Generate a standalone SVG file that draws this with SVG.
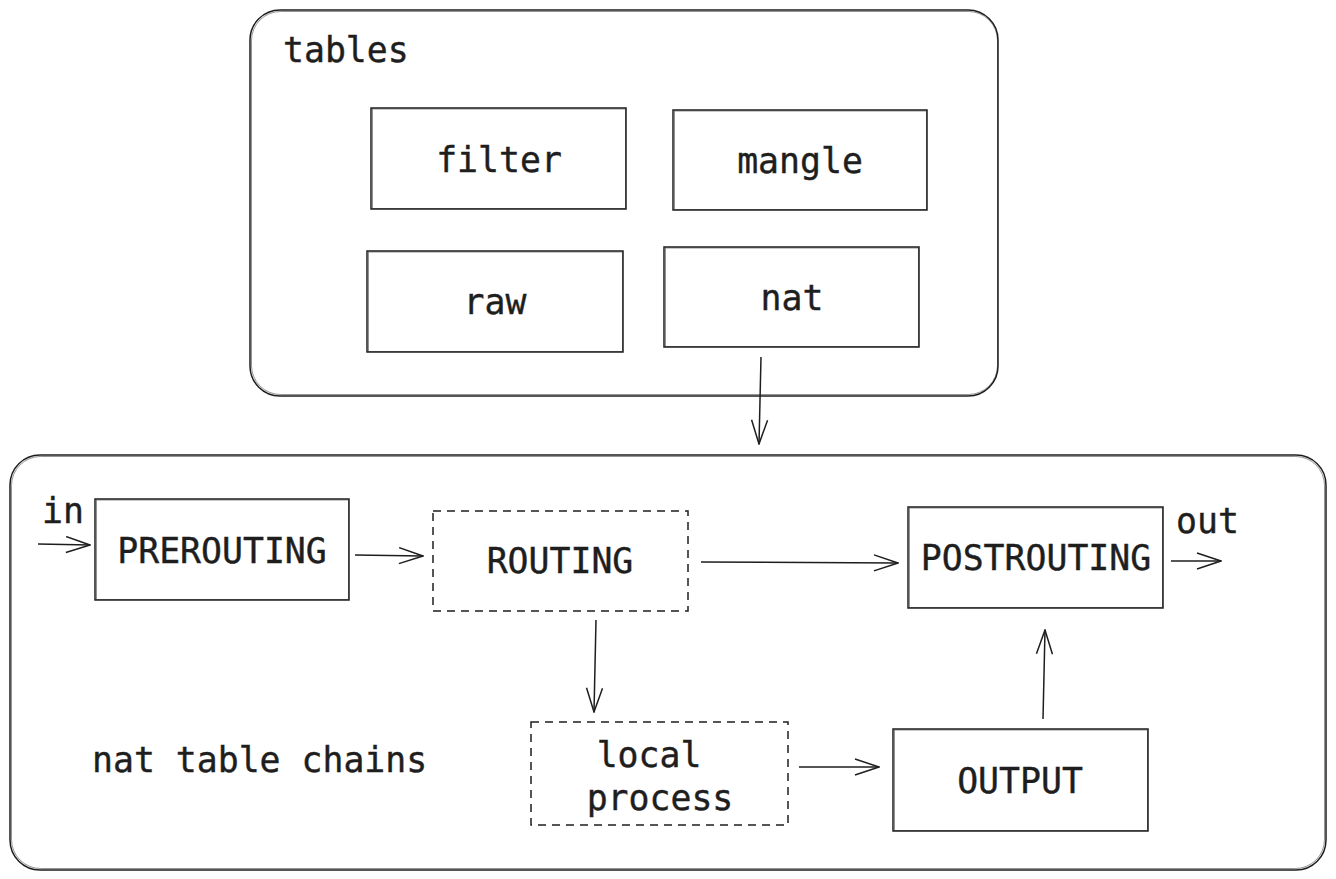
<svg xmlns="http://www.w3.org/2000/svg" width="1336" height="879" viewBox="0 0 1336 879">
<style>
.box{fill:none;stroke:#1e1e1e;stroke-width:1.5}
.sk{fill:none;stroke:#1e1e1e;stroke-width:0.8;opacity:0.6}
.dash{fill:none;stroke:#1e1e1e;stroke-width:1.5;stroke-dasharray:8 6}
.t{font-family:"DejaVu Sans Mono","Liberation Mono",monospace;font-size:34.8px;fill:#1e1e1e;stroke:#1e1e1e;stroke-width:0.4}
.c{text-anchor:middle}
.ln{fill:none;stroke:#1e1e1e;stroke-width:1.5}
</style>
<defs>
<marker id="ah" viewBox="0 0 26 18" refX="25" refY="9" markerWidth="26" markerHeight="18" markerUnits="userSpaceOnUse" orient="auto">
<path d="M1,1 L25,9 L1,17" fill="none" stroke="#1e1e1e" stroke-width="1.5"/>
</marker>
</defs>
<rect width="1336" height="879" fill="#ffffff"/>

<g id="tables">
<rect class="box" x="250" y="10" width="748" height="386" rx="30"/>
<rect class="sk" x="251.5" y="11.5" width="746" height="383" rx="29"/>
<text class="t" x="283" y="62">tables</text>
</g>
<g id="filter">
<rect class="box" x="371" y="108" width="255" height="101"/>
<rect class="sk" x="372.5" y="109" width="253" height="99.5"/>
<text class="t c" x="499" y="172">filter</text>
</g>
<g id="mangle">
<rect class="box" x="673" y="110" width="254" height="100"/>
<rect class="sk" x="674.5" y="111" width="252" height="98.5"/>
<text class="t c" x="800" y="173">mangle</text>
</g>
<g id="raw">
<rect class="box" x="367" y="251" width="256" height="101"/>
<rect class="sk" x="368.5" y="252" width="254" height="99.5"/>
<text class="t c" x="495" y="314">raw</text>
</g>
<g id="nat">
<rect class="box" x="664" y="247" width="255" height="100"/>
<rect class="sk" x="665.5" y="248" width="253" height="98.5"/>
<text class="t c" x="792" y="310">nat</text>
</g>

<g id="chains">
<rect class="box" x="10" y="455" width="1316" height="415" rx="30"/>
<rect class="sk" x="11.5" y="456.5" width="1313" height="412" rx="29"/>
<text class="t" x="92" y="772">nat table chains</text>
<text class="t" x="42" y="523">in</text>
<text class="t" x="1176" y="533">out</text>
</g>
<g id="prerouting">
<rect class="box" x="95" y="499" width="254" height="101"/>
<rect class="sk" x="96.5" y="500" width="252" height="99.5"/>
<text class="t c" x="222" y="563">PREROUTING</text>
</g>
<g id="routing">
<rect class="dash" x="433" y="511" width="255" height="100"/>
<text class="t c" x="560" y="573">ROUTING</text>
</g>
<g id="postrouting">
<rect class="box" x="908" y="507" width="255" height="101"/>
<rect class="sk" x="909.5" y="508" width="253" height="99.5"/>
<text class="t c" x="1036" y="570">POSTROUTING</text>
</g>
<g id="local">
<rect class="dash" x="531" y="722" width="257" height="103"/>
<text class="t c" x="649" y="767">local</text>
<text class="t c" x="660" y="810">process</text>
</g>
<g id="output">
<rect class="box" x="893" y="729" width="255" height="102"/>
<rect class="sk" x="894.5" y="730" width="253" height="100.5"/>
<text class="t c" x="1020" y="793">OUTPUT</text>
</g>

<g id="connectors">
<path class="ln" d="M761,357 L759,444" marker-end="url(#ah)"/>
<path class="ln" d="M38,544 L90,545" marker-end="url(#ah)"/>
<path class="ln" d="M355,555 L423,556" marker-end="url(#ah)"/>
<path class="ln" d="M701,562 L898,563" marker-end="url(#ah)"/>
<path class="ln" d="M1171,561 L1221,561" marker-end="url(#ah)"/>
<path class="ln" d="M596,620 L594,712" marker-end="url(#ah)"/>
<path class="ln" d="M799,767 L879,767" marker-end="url(#ah)"/>
<path class="ln" d="M1043,719 L1045,630" marker-end="url(#ah)"/>
</g>
</svg>
